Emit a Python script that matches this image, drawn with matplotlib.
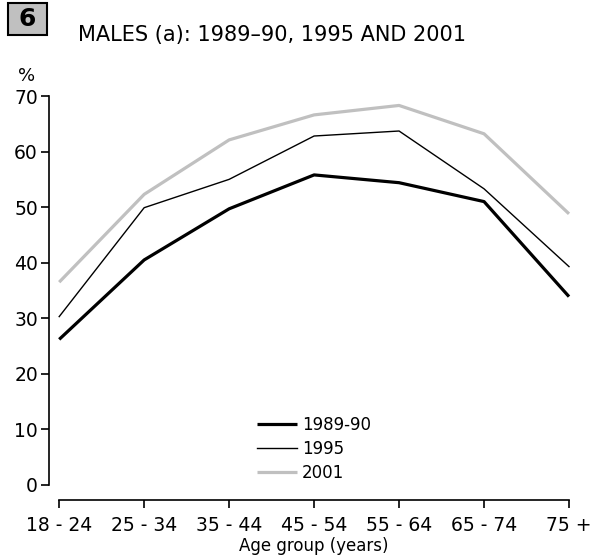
import matplotlib.pyplot as plt
from matplotlib.patches import Rectangle

ages = ['18 - 24', '25 - 34', '35 - 44', '45 - 54', '55 - 64', '65 - 74', '75 +']
males_8990 = [26.2, 40.5, 49.7, 55.8, 54.4, 51.0, 33.9]
males_1995 = [30.3, 49.9, 55.0, 62.8, 63.7, 53.3, 39.3]
males_2001 = [36.5, 52.3, 62.1, 66.6, 68.3, 63.2, 48.8]

plt.rcParams['font.family'] = ['DejaVu Sans']

fig = plt.figure(figsize=(5.92, 5.57), dpi=100)
ax = fig.add_axes([49 / 592, 1 - 485 / 557, 520 / 592, 389 / 557])

x = range(len(ages))
ax.plot(x, males_8990, color='black', lw=2.3, label='1989-90', solid_capstyle='butt')
ax.plot(x, males_1995, color='black', lw=1.0, label='1995')
ax.plot(x, males_2001, color='#c0c0c0', lw=2.3, label='2001', solid_capstyle='butt')

ax.set_xlim(-0.12, 6.0)
ax.set_ylim(0, 70)
ax.set_yticks(range(0, 71, 10))
ax.set_xticks(list(x))
ax.set_xticklabels(ages)

for s in ['top', 'right']:
    ax.spines[s].set_visible(False)
ax.spines['bottom'].set_position(('outward', 11))
ax.spines['bottom'].set_bounds(0, 6)
for s in ['left', 'bottom']:
    ax.spines[s].set_linewidth(1.2)
ax.tick_params(axis='both', direction='out', length=6, width=1.2, labelsize=13.5, colors='black')
ax.tick_params(axis='y', pad=2)
ax.tick_params(axis='x', pad=5)
for line in ax.lines:
    line.set_clip_on(False)

# x label placed in figure coords so it stays inside the canvas
fig.text(314 / 592, 1 - 546 / 557, 'Age group (years)', ha='center', va='center', fontsize=12)

ax.legend(loc='center', bbox_to_anchor=(314 / 592, 1 - 449 / 557), bbox_transform=fig.transFigure,
          frameon=False, fontsize=12, handlelength=2.4, handletextpad=0.3, labelspacing=0.35)

fig.add_artist(Rectangle((8 / 592, 1 - 35 / 557), 39 / 592, 32 / 557, transform=fig.transFigure,
                         facecolor='#c0c0c0', edgecolor='black', lw=1.5))
fig.text(27.5 / 592, 1 - 19.5 / 557, '6', ha='center', va='center', fontsize=18, fontweight='bold')
fig.text(78 / 592, 1 - 35 / 557, 'MALES (a): 1989\u201390, 1995 AND 2001', ha='left', va='center', fontsize=15)
fig.text(27 / 592, 1 - 76 / 557, '%', ha='center', va='center', fontsize=13)

plt.savefig('out.png')
